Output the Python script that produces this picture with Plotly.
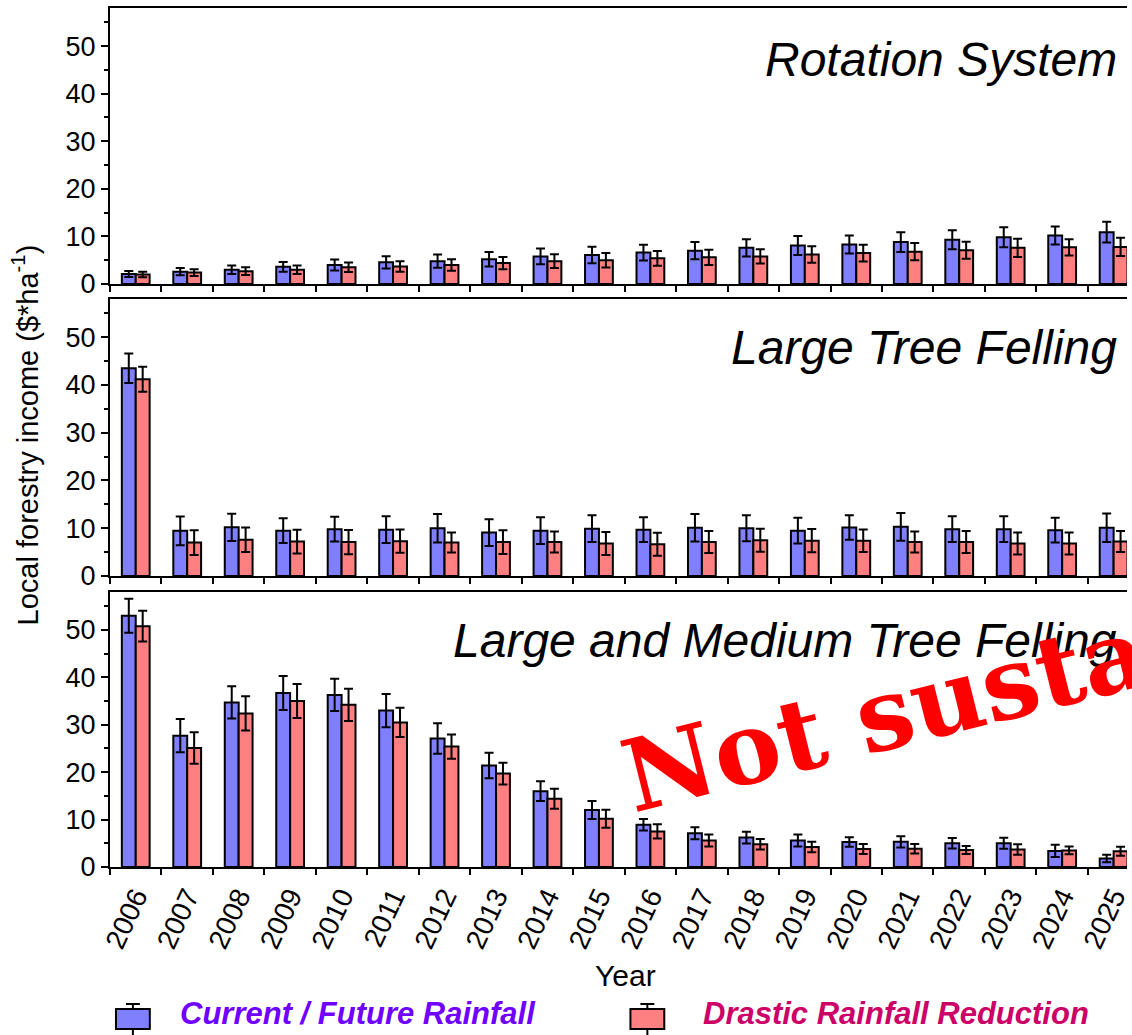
import plotly.graph_objects as go

years = [str(y) for y in range(2006, 2026)]

# Rotation System
rot_cur = [2.1, 2.6, 3.0, 3.6, 4.0, 4.55, 4.8, 5.2, 5.8, 6.1, 6.6, 7.0, 7.6, 8.1, 8.3, 8.8, 9.3, 9.8, 10.2, 10.9]
rot_cur_err = [0.63, 0.75, 0.9, 1.0, 1.15, 1.3, 1.4, 1.5, 1.65, 1.75, 1.65, 1.8, 1.8, 2.0, 1.9, 2.1, 2.0, 2.1, 1.9, 2.2]
rot_dra = [2.0, 2.4, 2.7, 3.0, 3.5, 3.7, 4.0, 4.4, 4.8, 5.0, 5.4, 5.6, 5.8, 6.2, 6.5, 6.8, 7.1, 7.6, 7.7, 7.8]
rot_dra_err = [0.6, 0.7, 0.8, 0.9, 1.0, 1.1, 1.2, 1.3, 1.45, 1.54, 1.54, 1.6, 1.5, 1.75, 1.75, 1.8, 1.8, 1.9, 1.7, 1.9]

# Large Tree Felling
ltf_cur = [43.5, 9.45, 10.2, 9.5, 9.8, 9.7, 10.0, 9.1, 9.5, 9.9, 9.7, 10.1, 10.0, 9.5, 10.15, 10.3, 9.8, 9.8, 9.6, 10.1]
ltf_cur_err = [3.1, 3.0, 2.85, 2.6, 2.6, 2.8, 3.0, 2.8, 2.8, 2.8, 2.6, 2.9, 2.7, 2.7, 2.55, 2.9, 2.7, 2.7, 2.6, 3.0]
ltf_dra = [41.2, 7.0, 7.6, 7.2, 7.1, 7.3, 7.0, 7.1, 7.1, 6.8, 6.65, 7.1, 7.5, 7.4, 7.4, 7.1, 7.1, 6.8, 6.8, 7.2]
ltf_dra_err = [2.6, 2.6, 2.55, 2.5, 2.55, 2.45, 2.1, 2.5, 2.2, 2.4, 2.4, 2.3, 2.4, 2.45, 2.35, 2.2, 2.3, 2.3, 2.3, 2.2]

# Large and Medium Tree Felling
lmf_cur = [53.0, 27.7, 34.7, 36.7, 36.3, 33.0, 27.1, 21.4, 16.0, 12.0, 8.9, 7.1, 6.2, 5.6, 5.25, 5.3, 5.0, 5.0, 3.4, 1.8]
lmf_cur_err = [3.6, 3.5, 3.4, 3.6, 3.4, 3.5, 3.2, 2.7, 2.1, 1.9, 1.2, 1.26, 1.26, 1.26, 1.0, 1.2, 1.1, 1.15, 1.3, 0.8]
lmf_dra = [50.8, 25.1, 32.4, 35.0, 34.2, 30.5, 25.4, 19.7, 14.4, 10.2, 7.5, 5.6, 4.8, 4.2, 3.8, 3.85, 3.6, 3.7, 3.5, 3.3]
lmf_dra_err = [3.25, 3.3, 3.6, 3.6, 3.4, 3.1, 2.55, 2.3, 2.1, 1.9, 1.5, 1.26, 1.1, 1.1, 1.05, 1.0, 0.85, 1.1, 0.8, 0.95]

panel_titles = ["Rotation System", "Large Tree Felling", "Large and Medium Tree Felling"]
series_names = ["Current / Future Rainfall", "Drastic Rainfall Reduction"]

W, H = 1132, 1035
ML, MR, MT, MB = 110, 0, 8, 168
PW, PH = W - ML - MR, H - MT - MB

def px(x):
    return (x - ML) / PW

def py(y):
    return (H - MB - y) / PH

BLUE = "#8080FF"
RED = "#FF8080"
FONT = "Liberation Sans, Arial, sans-serif"

fig = go.Figure()
panels = [
    (rot_cur, rot_cur_err, rot_dra, rot_dra_err),
    (ltf_cur, ltf_cur_err, ltf_dra, ltf_dra_err),
    (lmf_cur, lmf_cur_err, lmf_dra, lmf_dra_err),
]
for i, (c, ce, d, de) in enumerate(panels):
    xa = "x" if i == 0 else f"x{i+1}"
    ya = "y" if i == 0 else f"y{i+1}"
    for vals, errs, col, name in [(c, ce, BLUE, series_names[0]), (d, de, RED, series_names[1])]:
        fig.add_trace(go.Bar(
            x=years, y=vals, xaxis=xa, yaxis=ya, name=name,
            marker=dict(color=col, line=dict(color="black", width=2)),
            error_y=dict(type="data", array=errs, visible=True, color="black",
                         thickness=2, width=4.5),
            showlegend=False,
        ))

domains = [
    [py(284), 1.0],
    [py(576), py(299)],
    [0.0, py(592)],
]

layout = dict(
    width=W, height=H,
    margin=dict(l=ML, r=MR, t=MT, b=MB, pad=0),
    paper_bgcolor="white", plot_bgcolor="white",
    barmode="group", bargap=0.46, bargroupgap=0.0,
    font=dict(family=FONT, size=27, color="black"),
    showlegend=False,
)
for i in range(3):
    sfx = "" if i == 0 else str(i + 1)
    layout["xaxis" + sfx] = dict(
        domain=[0, 1], anchor="y" + sfx, type="category",
        range=[-0.5, 19.26], tickson="boundaries",
        ticks="outside", ticklen=6, tickwidth=2, tickcolor="black",
        showline=True, linewidth=2, linecolor="black", mirror=True,
        showgrid=False, zeroline=False,
        showticklabels=(i == 2), tickangle=-65,
        tickfont=dict(size=28),
    )
    layout["yaxis" + sfx] = dict(
        domain=domains[i], anchor="x" + sfx, range=[0, 58],
        dtick=10, tick0=0, ticks="outside", ticklen=7, tickwidth=2, tickcolor="black",
        minor=dict(dtick=5, ticks="outside", ticklen=4, tickwidth=2, tickcolor="black"),
        showline=True, linewidth=2, linecolor="black", mirror=False,
        showgrid=False, zeroline=False, tickfont=dict(size=27),
    )
fig.update_layout(**layout)

ann = []
title_y = [60, 347, 640]
for t, yy in zip(panel_titles, title_y):
    ann.append(dict(text=f"<i>{t}</i>", x=px(1124), y=py(yy), xref="paper", yref="paper",
                    xanchor="right", yanchor="middle", showarrow=False,
                    font=dict(size=48, color="black", family=FONT)))
ann.append(dict(text="Local forestry income ($*ha<sup>-1</sup>)", x=px(25), y=py(435),
                xref="paper", yref="paper", xanchor="center", yanchor="middle",
                textangle=-90, showarrow=False, font=dict(size=29)))
ann.append(dict(text="Year", x=px(628), y=py(975), xref="paper", yref="paper",
                xanchor="center", yanchor="middle", showarrow=False, font=dict(size=30)))
ann.append(dict(text="<b>Not sustainable</b>", x=px(1058), y=py(672), xref="paper", yref="paper",
                xanchor="center", yanchor="middle", textangle=-14, showarrow=False,
                font=dict(size=100, color="#FF0000", family="DejaVu Serif, serif")))
# legend texts
ann.append(dict(text="<b><i>" + series_names[0] + "</i></b>", x=px(178), y=py(1014), xref="paper", yref="paper",
                xanchor="left", yanchor="middle", showarrow=False,
                font=dict(size=31, color="#7000FF")))
ann.append(dict(text="<b><i>" + series_names[1] + "</i></b>", x=px(704), y=py(1014), xref="paper", yref="paper",
                xanchor="left", yanchor="middle", showarrow=False,
                font=dict(size=31, color="#CC0066")))

shapes = []
for cx, col in [(133, BLUE), (650, RED)]:
    shapes.append(dict(type="line", xref="paper", yref="paper", x0=px(cx), x1=px(cx),
                       y0=py(1004), y1=py(1040), line=dict(color="black", width=2)))
    shapes.append(dict(type="line", xref="paper", yref="paper", x0=px(cx - 7), x1=px(cx + 7),
                       y0=py(1004), y1=py(1004), line=dict(color="black", width=2)))
    shapes.append(dict(type="rect", xref="paper", yref="paper", x0=px(cx - 17), x1=px(cx + 17),
                       y0=py(1009), y1=py(1029), fillcolor=col, line=dict(color="black", width=2)))
fig.update_layout(annotations=ann, shapes=shapes)

fig.write_html("out.html")
